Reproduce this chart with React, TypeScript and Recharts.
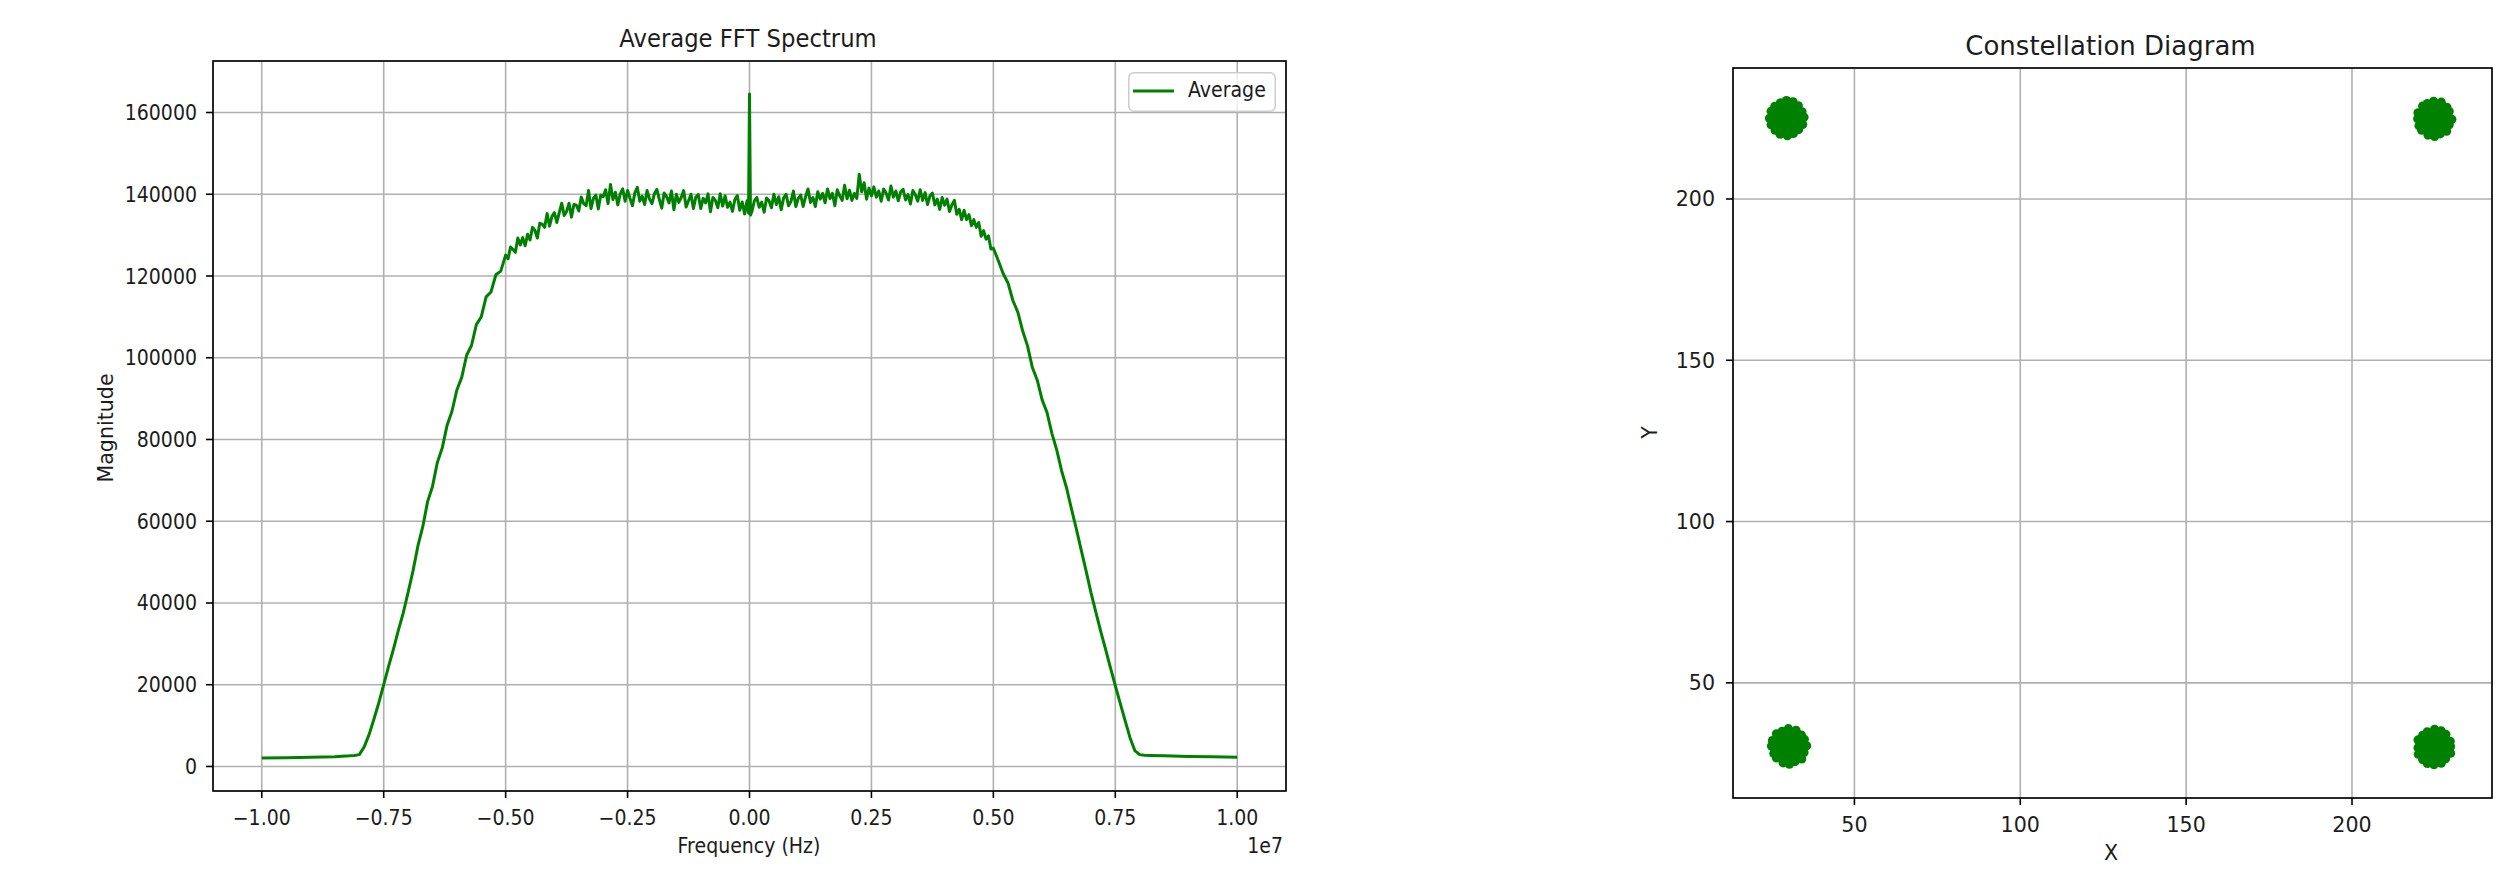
import { CartesianGrid, Legend, Line, LineChart, Scatter, ScatterChart, XAxis, YAxis } from 'recharts'

// spectrum samples: frequency in MHz, magnitude in thousands
const freqMHz = [
  -10, -9.5, -9, -8.5, -8.2, -8.1, -8.0,
  -7.9, -7.8, -7.7, -7.6, -7.5, -7.4, -7.3, -7.2, -7.1, -7.0,
  -6.9, -6.8, -6.7, -6.6, -6.5, -6.4, -6.3, -6.2, -6.1, -6.0,
  -5.9, -5.8, -5.7, -5.6, -5.5, -5.4, -5.3, -5.2, -5.1,
  -5.0, -4.95, -4.9, -4.85, -4.8, -4.75, -4.7, -4.65, -4.6, -4.55,
  -4.5, -4.45, -4.4, -4.35, -4.3, -4.25, -4.2, -4.15, -4.1, -4.05,
  -4.0, -3.95, -3.9, -3.85, -3.8, -3.75, -3.7, -3.65, -3.6, -3.55,
  -3.5, -3.45, -3.4, -3.35, -3.3, -3.25, -3.2, -3.15, -3.1, -3.05,
  -3.0, -2.95, -2.9, -2.85, -2.8, -2.75, -2.7, -2.65, -2.6, -2.55,
  -2.5, -2.45, -2.4, -2.35, -2.3, -2.25, -2.2, -2.15, -2.1, -2.05,
  -2.0, -1.95, -1.9, -1.85, -1.8, -1.75, -1.7, -1.65, -1.6, -1.55,
  -1.5, -1.45, -1.4, -1.35, -1.3, -1.25, -1.2, -1.15, -1.1, -1.05,
  -1.0, -0.95, -0.9, -0.85, -0.8, -0.75, -0.7, -0.65, -0.6, -0.55,
  -0.5, -0.45, -0.4, -0.35, -0.3, -0.25, -0.2, -0.15, -0.1, -0.05,
  -0.02, 0, 0.02,
  0.05, 0.1, 0.15, 0.2, 0.25, 0.3, 0.35, 0.4, 0.45, 0.5,
  0.55, 0.6, 0.65, 0.7, 0.75, 0.8, 0.85, 0.9, 0.95, 1.0,
  1.05, 1.1, 1.15, 1.2, 1.25, 1.3, 1.35, 1.4, 1.45, 1.5,
  1.55, 1.6, 1.65, 1.7, 1.75, 1.8, 1.85, 1.9, 1.95, 2.0,
  2.05, 2.1, 2.15, 2.2, 2.25, 2.3, 2.35, 2.4, 2.45, 2.5,
  2.55, 2.6, 2.65, 2.7, 2.75, 2.8, 2.85, 2.9, 2.95, 3.0,
  3.05, 3.1, 3.15, 3.2, 3.25, 3.3, 3.35, 3.4, 3.45, 3.5,
  3.55, 3.6, 3.65, 3.7, 3.75, 3.8, 3.85, 3.9, 3.95, 4.0,
  4.05, 4.1, 4.15, 4.2, 4.25, 4.3, 4.35, 4.4, 4.45, 4.5,
  4.55, 4.6, 4.65, 4.7, 4.75, 4.8, 4.85, 4.9, 4.95, 5.0,
  5.1, 5.2, 5.3, 5.4, 5.5, 5.6, 5.7, 5.8, 5.9,
  6.0, 6.1, 6.2, 6.3, 6.4, 6.5, 6.6, 6.7, 6.8, 6.9,
  7.0, 7.1, 7.2, 7.3, 7.4, 7.5, 7.6, 7.7, 7.8, 7.9,
  8.0, 8.1, 8.2, 8.5, 9.0, 9.5, 10.0,
]

const magnitudeK = [
  2.1, 2.15, 2.25, 2.4, 2.6, 2.7, 2.9,
  4.8, 7.8, 11.6, 15.6, 20.0, 24.5, 28.7, 33.3, 37.5, 42.6,
  47.8, 53.9, 58.6, 64.8, 68.5, 74.4, 77.9, 83.5, 86.9, 92.1,
  95.2, 100.6, 103.0, 108.1, 110.0, 114.9, 116.1, 120.3, 121.2,
  125.1, 124.2, 127.1, 126.5, 125.8, 129.3, 127.6, 129.4, 127.4, 130.2,
  128.8, 131.9, 131.2, 129.3, 132.9, 132.7, 131.9, 135.3, 132.2, 134.6,
  135.5, 133.1, 135.5, 137.8, 134.8, 135.8, 137.8, 134.4, 137.5, 137.3,
  135.9, 139.3, 137.7, 137.2, 140.9, 136.5, 139.0, 139.8, 136.4, 139.8,
  139.4, 141.1, 137.7, 142.4, 138.7, 140.5, 137.4, 140.1, 141.3, 138.3,
  140.9, 139.0, 137.2, 140.4, 141.7, 138.3, 139.5, 137.5, 140.9, 138.8,
  137.7, 140.1, 141.2, 138.8, 136.6, 140.3, 139.4, 137.9, 140.8, 136.2,
  140.0, 138.0, 139.2, 140.9, 136.9, 138.4, 140.0, 136.5, 139.3, 139.9,
  136.5, 139.0, 137.9, 140.1, 135.7, 139.2, 138.5, 136.7, 140.1, 137.1,
  139.6, 136.8, 138.1, 135.8, 138.7, 139.7, 136.1, 138.1, 135.2, 138.4,
  135.4, 164.5, 134.9,
  135.8, 138.4, 139.2, 136.8, 138.1, 135.6, 139.1, 138.4, 136.7, 140.0,
  137.5, 139.4, 136.2, 139.1, 140.0, 137.2, 138.2, 140.8, 137.0, 139.0,
  139.8, 137.0, 139.4, 141.3, 138.0, 139.2, 137.0, 140.6, 138.8, 140.2,
  137.9, 141.3, 138.9, 140.2, 137.2, 141.1, 139.6, 138.5, 142.2, 138.9,
  141.0, 138.5, 140.2, 139.0, 144.9, 140.6, 142.8, 138.8, 141.5, 139.6,
  141.8, 139.3, 140.8, 138.3, 141.3, 140.3, 138.6, 142.0, 139.3, 140.8,
  138.4, 140.6, 141.2, 138.6, 139.9, 137.6, 140.9, 139.9, 138.3, 141.1,
  138.5, 140.4, 137.5, 139.6, 140.3, 137.4, 138.8, 136.3, 139.2, 137.3,
  138.8, 135.8, 137.4, 138.5, 135.1, 136.3, 133.8, 136.1, 133.8, 135.0,
  132.3, 133.8, 131.9, 133.1, 129.7, 131.1, 129.0, 129.8, 126.6, 126.8,
  123.8, 120.6, 118.3, 114.0, 111.2, 106.6, 102.9, 97.6, 94.5,
  89.7, 86.6, 81.5, 77.4, 72.3, 68.2, 63.1, 58.2, 53.0, 47.9,
  42.6, 37.8, 33.1, 28.7, 24.2, 19.8, 15.5, 11.3, 7.1, 3.9,
  2.9, 2.75, 2.7, 2.6, 2.45, 2.35, 2.25,
]

const freqTicks = [-1e7, -0.75e7, -0.5e7, -0.25e7, 0, 0.25e7, 0.5e7, 0.75e7, 1e7]
const magTicks = [0, 20000, 40000, 60000, 80000, 100000, 120000, 140000, 160000]
const iqTicks = [50, 100, 150, 200]

// constellation clusters [x, y]: dense core plus a ragged rim
const coreTL: [number, number][] = [[29.6, 225.1], [32.3, 225.1], [31.0, 227.5], [28.2, 227.5], [26.9, 225.1], [28.2, 222.7], [31.0, 222.7]]
const rimTL: [number, number][] = [
  [34.8, 225.3], [34.2, 227.0], [33.1, 228.9], [31.5, 230.1], [29.5, 230.5], [27.7, 229.8], [26.0, 228.7], [24.9, 227.2],
  [24.4, 225.0], [24.9, 223.0], [26.1, 221.3], [27.6, 220.1], [29.8, 219.6], [31.6, 220.3], [33.2, 221.5], [34.4, 223.1],
]
const coreTR: [number, number][] = [[224.8, 224.9], [227.5, 224.9], [226.2, 227.3], [223.4, 227.3], [222.1, 224.9], [223.4, 222.5], [226.2, 222.5]]
const rimTR: [number, number][] = [
  [230.1, 224.7], [229.3, 227.1], [228.6, 228.4], [226.9, 230.0], [224.6, 230.3], [222.7, 229.6], [221.3, 228.8], [219.9, 226.7],
  [219.8, 224.9], [220.2, 222.7], [221.0, 221.3], [222.9, 219.8], [224.9, 219.4], [226.6, 220.2], [228.5, 221.0], [229.3, 223.0],
]
const coreBL: [number, number][] = [[30.3, 30.3], [33.0, 30.3], [31.7, 32.7], [28.9, 32.7], [27.6, 30.3], [28.9, 27.9], [31.7, 27.9]]
const rimBL: [number, number][] = [
  [35.6, 30.5], [34.9, 32.5], [34.0, 33.8], [32.4, 35.3], [30.1, 35.8], [28.2, 35.0], [26.5, 34.2], [25.3, 32.1],
  [25.0, 30.4], [25.7, 28.1], [26.5, 26.7], [28.5, 25.2], [30.4, 24.8], [32.1, 25.6], [34.1, 26.4], [34.8, 28.4],
]
const coreBR: [number, number][] = [[224.8, 30.1], [227.5, 30.1], [226.2, 32.5], [223.4, 32.5], [222.1, 30.1], [223.4, 27.7], [226.2, 27.7]]
const rimBR: [number, number][] = [
  [229.7, 30.3], [229.6, 31.9], [228.3, 34.0], [226.9, 35.1], [224.9, 35.6], [222.7, 34.8], [221.3, 33.7], [219.9, 32.3],
  [219.9, 29.9], [220.0, 27.9], [221.3, 26.2], [222.7, 25.0], [224.7, 24.6], [226.9, 25.1], [228.2, 26.5], [229.7, 28.2],
]

const spectrum = freqMHz.map((f, i) => ({ f: f * 1e6, m: magnitudeK[i] * 1000 }))
const toXY = (pts: [number, number][]) => pts.map(([x, y]) => ({ x, y }))
const corePoints = toXY([...coreTL, ...coreTR, ...coreBL, ...coreBR])
const rimPoints = toXY([...rimTL, ...rimTR, ...rimBL, ...rimBR])

const GREEN = '#008000'
const INK = '#1c1c1c'
const GRID = '#b0b0b0'
const FONT = '"DejaVu Sans", Verdana, sans-serif'
const SQUEEZE = 0.92 // left figure is a bit narrower than square pixels

const minus = (s: string) => s.replace('-', '\u2212')

function tick(fmt: (v: number) => string, anchor: 'start' | 'middle' | 'end', dy: number, size: number, sx: number) {
  return (props: any) => {
    const { x, y, payload } = props
    return (
      <text
        transform={`translate(${x},${y}) scale(${sx},1)`}
        textAnchor={anchor}
        dy={dy}
        fontSize={size}
        fontFamily={FONT}
        fill={INK}
      >
        {fmt(payload.value)}
      </text>
    )
  }
}

function LegendBox() {
  return (
    <svg width={148} height={40}>
      <rect x={0.75} y={0.75} width={146.5} height={38.5} rx={5} fill="rgba(255,255,255,0.8)" stroke="#cccccc" strokeWidth={1.5} />
      <line x1={5} x2={46} y1={19} y2={19} stroke={GREEN} strokeWidth={3} />
      <text transform={`translate(60,24.7) scale(${SQUEEZE},1)`} fontSize={20.6} fontFamily={FONT} fill={INK}>
        Average
      </text>
    </svg>
  )
}

function SpectrumChart() {
  return (
    <LineChart width={1300} height={879} data={spectrum} margin={{ top: 61, right: 14, bottom: 0, left: 0 }}>
      <CartesianGrid stroke={GRID} strokeWidth={1.6} />
      <XAxis
        type="number"
        dataKey="f"
        domain={[-1.1e7, 1.1e7]}
        allowDataOverflow
        ticks={freqTicks}
        height={88}
        axisLine={false}
        tickLine={{ stroke: '#000', strokeWidth: 1.6 }}
        tickSize={7}
        tickMargin={4}
        tick={tick((v) => minus((v / 1e7).toFixed(2)), 'middle', 23, 20.6, SQUEEZE)}
      />
      <YAxis
        type="number"
        domain={[-6000, 172600]}
        allowDataOverflow
        ticks={magTicks}
        width={213}
        axisLine={false}
        tickLine={{ stroke: '#000', strokeWidth: 1.6 }}
        tickSize={7}
        tickMargin={9}
        tick={tick((v) => String(v), 'end', 7.5, 20.6, SQUEEZE)}
      />
      <Legend
        layout="horizontal"
        align="center"
        verticalAlign="middle"
        wrapperStyle={{ left: 1128, top: 72, width: 148, height: 40 }}
        content={() => <LegendBox />}
      />
      <Line
        type="linear"
        dataKey="m"
        name="Average"
        stroke={GREEN}
        strokeWidth={3}
        strokeLinejoin="round"
        dot={false}
        isAnimationActive={false}
      />
    </LineChart>
  )
}

function ConstellationChart() {
  return (
    <ScatterChart width={916} height={879} margin={{ top: 68, right: 24, bottom: 0, left: 0 }}>
      <CartesianGrid stroke={GRID} strokeWidth={1.6} />
      <XAxis
        type="number"
        dataKey="x"
        domain={[13.4, 242.2]}
        allowDataOverflow
        ticks={iqTicks}
        height={81}
        axisLine={false}
        tickLine={{ stroke: '#000', strokeWidth: 1.6 }}
        tickSize={7}
        tickMargin={4}
        tick={tick((v) => String(v), 'middle', 23, 20.6, 1)}
      />
      <YAxis
        type="number"
        dataKey="y"
        domain={[14.3, 240.6]}
        allowDataOverflow
        ticks={iqTicks}
        width={133}
        axisLine={false}
        tickLine={{ stroke: '#000', strokeWidth: 1.6 }}
        tickSize={7}
        tickMargin={11}
        tick={tick((v) => String(v), 'end', 7.5, 20.6, 1)}
      />
      <Scatter
        data={corePoints}
        fill={GREEN}
        isAnimationActive={false}
        shape={(p: any) => <circle cx={p.cx} cy={p.cy} r={9.5} fill={GREEN} />}
      />
      <Scatter
        data={rimPoints}
        fill={GREEN}
        isAnimationActive={false}
        shape={(p: any) => <circle cx={p.cx} cy={p.cy} r={4.6} fill={GREEN} />}
      />
    </ScatterChart>
  )
}

export default function App() {
  return (
    <div style={{ position: 'absolute', left: 0, top: 0, width: 2516, height: 879, background: '#fff', overflow: 'hidden' }}>
      <div style={{ position: 'absolute', left: 0, top: 0 }}>
        <SpectrumChart />
      </div>
      <div style={{ position: 'absolute', left: 1600, top: 0 }}>
        <ConstellationChart />
      </div>
      <svg width={2516} height={879} style={{ position: 'absolute', left: 0, top: 0, pointerEvents: 'none' }} fontFamily={FONT} fill={INK}>
        {/* axes frames */}
        <rect x={213} y={61} width={1073} height={730} fill="none" stroke="#000" strokeWidth={1.6} />
        <rect x={1733} y={68} width={759} height={730} fill="none" stroke="#000" strokeWidth={1.6} />
        {/* spectrum labels */}
        <text transform={`translate(748,47) scale(${SQUEEZE},1)`} textAnchor="middle" fontSize={24.7}>
          Average FFT Spectrum
        </text>
        <text transform={`translate(749,853) scale(${SQUEEZE},1)`} textAnchor="middle" fontSize={20.6}>
          Frequency (Hz)
        </text>
        <text transform={`translate(1283,853) scale(${SQUEEZE},1)`} textAnchor="end" fontSize={20.6}>
          1e7
        </text>
        <text transform="translate(113,428) rotate(-90)" textAnchor="middle" fontSize={20.6}>
          Magnitude
        </text>
        {/* constellation labels */}
        <text x={2110.5} y={55} textAnchor="middle" fontSize={26}>
          Constellation Diagram
        </text>
        <text x={2111} y={860} textAnchor="middle" fontSize={20.6}>
          X
        </text>
        <text transform="translate(1657,432.5) rotate(-90)" textAnchor="middle" fontSize={20.6}>
          Y
        </text>
      </svg>
    </div>
  )
}
